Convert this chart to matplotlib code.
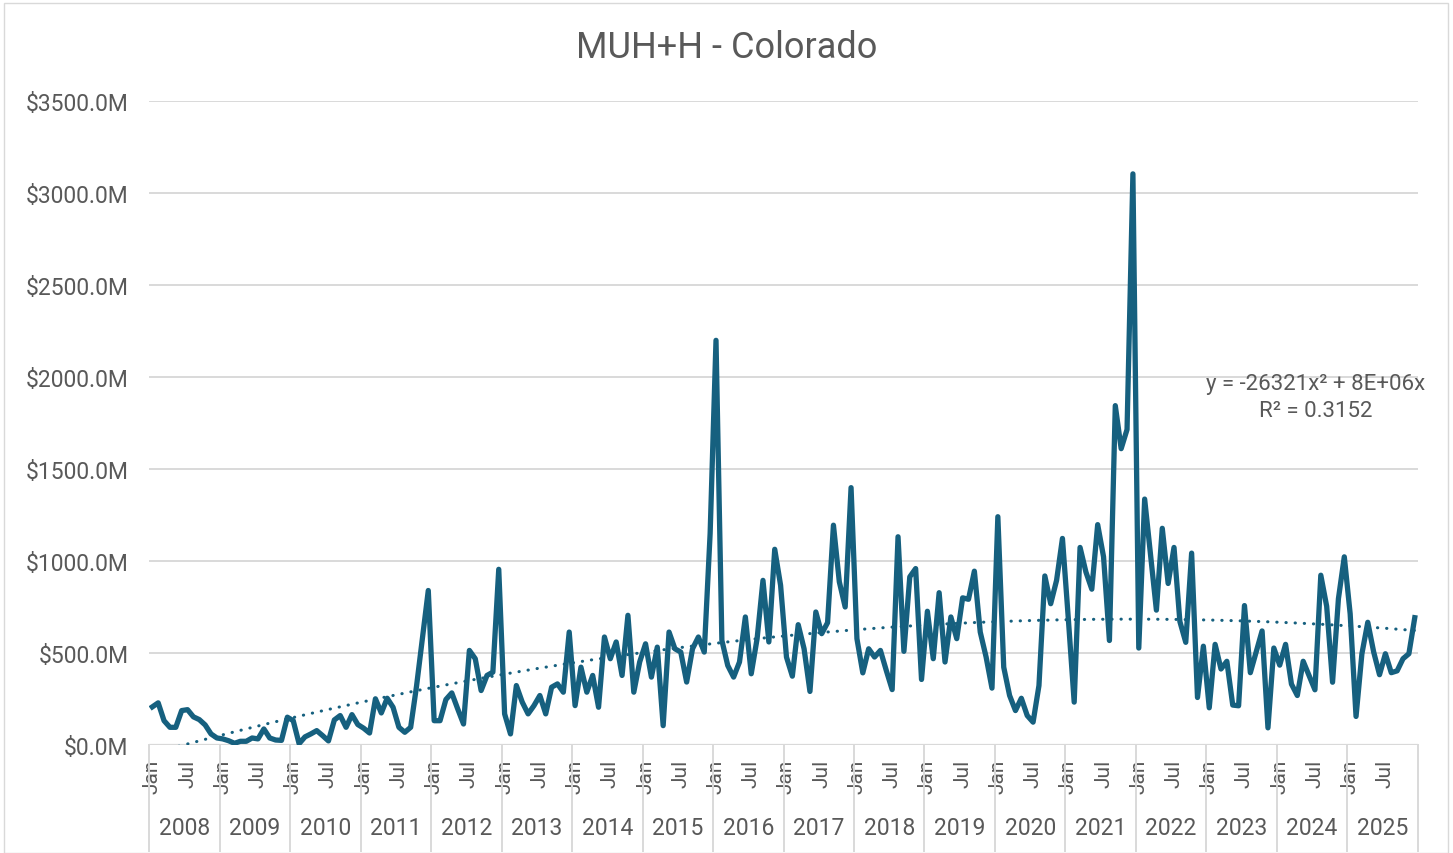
import numpy as np
import matplotlib
matplotlib.use("Agg")
import matplotlib.pyplot as plt
from matplotlib.patches import Rectangle
from matplotlib.transforms import blended_transform_factory

# monthly values in $M, Jan 2008 .. Dec 2025
years = list(range(2008, 2026))
values_m = [
    207, 229, 132, 96, 96, 187, 192, 153, 138, 109, 60, 38,          # 2008
    33, 23, 9, 20, 20, 38, 33, 87, 38, 27, 25, 151,                  # 2009
    132, 7, 44, 60, 78, 51, 22, 136, 160, 96, 165, 111,              # 2010
    91, 65, 251, 174, 254, 205, 96, 69, 96, 320, 580, 840,           # 2011
    132, 132, 247, 283, 197, 114, 514, 469, 296, 378, 396, 955,      # 2012
    169, 60, 323, 233, 169, 214, 269, 169, 314, 332, 287, 614,       # 2013
    214, 423, 287, 378, 205, 587, 469, 560, 378, 705, 287, 451,      # 2014
    550, 369, 532, 105, 614, 523, 505, 342, 523, 587, 505, 1150,     # 2015
    2200, 569, 432, 369, 451, 696, 387, 578, 895, 560, 1064, 868,    # 2016
    478, 374, 654, 523, 291, 723, 605, 665, 1195, 887, 750, 1399,    # 2017
    578, 392, 523, 478, 514, 405, 301, 1132, 509, 914, 959, 356,     # 2018
    727, 469, 828, 451, 696, 578, 800, 792, 945, 614, 478, 309,      # 2019
    1241, 423, 269, 187, 254, 160, 124, 323, 919, 768, 895, 1123,    # 2020
    687, 233, 1074, 940, 847, 1198, 1023, 568, 1845, 1611, 1715, 3105,  # 2021
    527, 1337, 1033, 733, 1178, 878, 1074, 671, 558, 1043, 258, 537,   # 2022
    202, 547, 413, 455, 217, 213, 758, 393, 506, 620, 93, 527,       # 2023
    434, 547, 331, 269, 455, 378, 300, 923, 754, 341, 795, 1023,     # 2024
    713, 155, 496, 667, 506, 382, 496, 393, 403, 469, 496, 692,      # 2025
]
month_labels = ["Jan", "Jul"]
y_ticks = [0, 500, 1000, 1500, 2000, 2500, 3000, 3500]
title = "MUH+H - Colorado"
eq_a = -26321          # x^2 coefficient shown on the chart ($)
eq_text = "y = -26321x² + 8E+06x\nR² = 0.3152"

line_col = "#16607f"
text_col = "#595959"
grid_col = "#d9d9d9"

plt.rcParams["font.family"] = ["Roboto", "DejaVu Sans"]

x = np.arange(len(values_m))
vals = np.array(values_m, dtype=float)

# quadratic trendline (excel uses x = 1..n), keep the shown x^2 coef
xx = x + 1
a_m = eq_a / 1e6
b, c = np.polyfit(xx, vals - a_m * xx ** 2, 1)
trend = a_m * xx ** 2 + b * xx + c

fig = plt.figure(figsize=(14.53, 8.54), dpi=100)
ax = fig.add_axes([0.1028, 0.1265, 0.8729, 0.7538])

for yv in y_ticks[1:]:
    ax.axhline(yv, color=grid_col, lw=1.4, zorder=0)
ax.axhline(0, color=grid_col, lw=1.6, zorder=0)

ax.plot(x, vals, color=line_col, lw=3.8, solid_joinstyle="round", zorder=3)
ax.plot(x, trend, color=line_col, lw=2.2, linestyle=(0, (0.1, 2.9)),
        dash_capstyle="round", zorder=2)

ax.set_xlim(-0.5, len(vals) - 0.5)
ax.set_ylim(0, 3500)
ax.set_yticks(y_ticks)
ax.set_yticklabels(["$%.1fM" % v for v in y_ticks])
ax.tick_params(axis="y", length=0, pad=15, labelsize=16.5, labelcolor=text_col)

xt = []
xl = []
for k in range(len(years)):
    for m, lab in zip([0, 6], month_labels):
        xt.append(12 * k + m)
        xl.append(lab)
ax.set_xticks(xt)
ax.set_xticklabels(xl, rotation=90, va="top", ha="center")
ax.tick_params(axis="x", length=0, pad=10, labelsize=15, labelcolor=text_col)

for s in ax.spines.values():
    s.set_visible(False)

# year group labels and separators below the axis
trans = blended_transform_factory(ax.transData, ax.transAxes)
for k, yr in enumerate(years):
    ax.text(12 * k + 5.5, -0.128, str(yr), transform=trans, ha="center",
            va="center", fontsize=16.5, color=text_col)
for k in range(len(years) + 1):
    ax.plot([12 * k - 0.5, 12 * k - 0.5], [0, -0.165], transform=trans,
            color=grid_col, lw=1.4, clip_on=False)

fig.text(0.5, 1 - 48 / 854, title, ha="center", va="center",
         fontsize=26, color=text_col)
fig.text(1316 / 1453, 1 - 398 / 854, eq_text, ha="center", va="center",
         fontsize=16, color=text_col, linespacing=1.32)

# light chart border
fig.patches.append(Rectangle((4 / 1453, 0), 1444 / 1453, 850 / 854,
                             transform=fig.transFigure, fill=False,
                             edgecolor=grid_col, lw=1.0))

fig.savefig("out.png", dpi=100)
